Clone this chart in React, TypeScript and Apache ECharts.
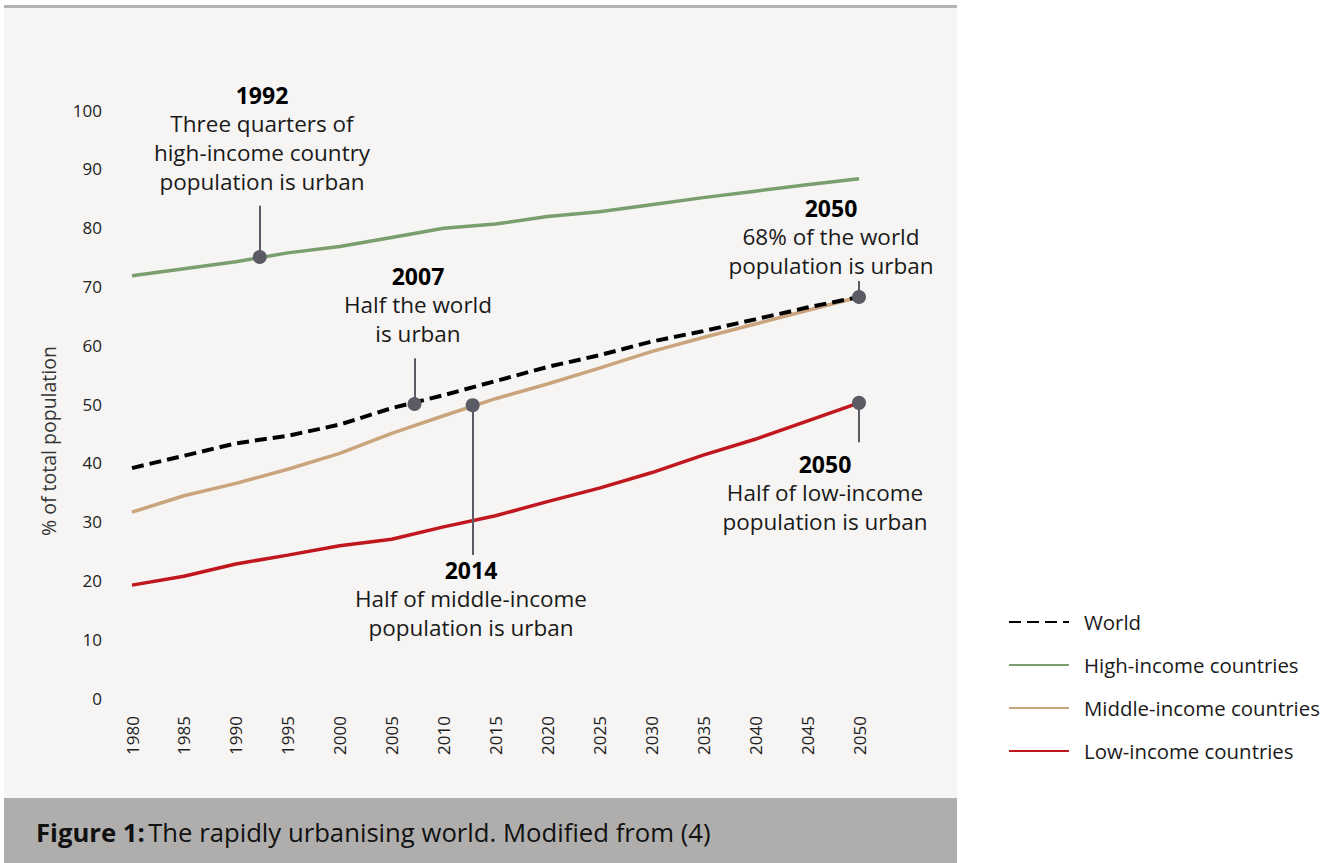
import React, { useEffect, useRef } from "react";
import * as echarts from "echarts";

const years = [1980, 1985, 1990, 1995, 2000, 2005, 2010, 2015, 2020, 2025, 2030, 2035, 2040, 2045, 2050];
const world = [39.1, 41.2, 43.3, 44.6, 46.5, 49.3, 51.5, 53.9, 56.3, 58.3, 60.6, 62.4, 64.4, 66.4, 68.2];
const high = [71.8, 73.0, 74.2, 75.7, 76.8, 78.3, 79.9, 80.6, 81.9, 82.7, 83.9, 85.1, 86.2, 87.3, 88.3];
const middle = [31.6, 34.4, 36.5, 38.9, 41.6, 45.0, 48.0, 50.9, 53.4, 56.1, 58.9, 61.3, 63.6, 65.9, 68.2];
const low = [19.2, 20.7, 22.8, 24.3, 25.9, 27.0, 29.1, 31.0, 33.4, 35.7, 38.3, 41.3, 44.0, 47.1, 50.2];

const seriesNames = ["World", "High-income countries", "Middle-income countries", "Low-income countries"];

// annotation dots: [year, value], leader line end value
const dotPoints = [
  [1992.3, 75.0],
  [2007.2, 50.0],
  [2012.8, 49.8],
  [2050, 68.2],
  [2050, 50.2],
];
const leaderEnds = [83.7, 57.8, 24.3, 70.9, 43.5];

const annotations = [
  { year: "1992", lines: ["Three quarters of", "high-income country", "population is urban"], x: 262, y: 80 },
  { year: "2007", lines: ["Half the world", "is urban"], x: 418, y: 261 },
  { year: "2014", lines: ["Half of middle-income", "population is urban"], x: 471, y: 555 },
  { year: "2050", lines: ["68% of the world", "population is urban"], x: 831, y: 193 },
  { year: "2050", lines: ["Half of low-income", "population is urban"], x: 825, y: 449 },
];

const FONT = "Open Sans";

export default function App() {
  const ref = useRef<HTMLDivElement>(null);
  useEffect(() => {
    if (!ref.current) return;
    const chart = echarts.init(ref.current, undefined, { renderer: "svg" });
    const mk = (arr: number[]) => years.map((y, i) => [y, arr[i]]);
    const graphics: any[] = [
      { type: "rect", z: -10, shape: { x: 4, y: 5, width: 953, height: 793 }, style: { fill: "#f6f5f3" } },
      { type: "rect", z: -9, shape: { x: 4, y: 5, width: 953, height: 3 }, style: { fill: "#b3b3b1" } },
      { type: "rect", z: -9, shape: { x: 4, y: 798, width: 953, height: 65 }, style: { fill: "#afaeac" } },
      {
        type: "text",
        x: 36,
        y: 832,
        style: {
          text: "{b|Figure 1:} {n|The rapidly urbanising world. Modified from (4)}",
          verticalAlign: "middle",
          rich: {
            b: { fontFamily: FONT, fontSize: 25.7, fontWeight: "bold", fill: "#111" },
            n: { fontFamily: FONT, fontSize: 25.7, fill: "#111" },
          },
        },
      },
      {
        type: "text",
        x: 48,
        y: 441,
        rotation: Math.PI / 2,
        style: {
          text: "% of total population",
          align: "center",
          verticalAlign: "middle",
          fontFamily: FONT,
          fontSize: 19.5,
          fill: "#333",
        },
      },
    ];
    annotations.forEach((a) => {
      graphics.push({
        type: "text",
        x: a.x,
        y: a.y,
        style: {
          text: ["{y|" + a.year + "}", ...a.lines.map((l) => "{t|" + l + "}")].join("\n"),
          align: "center",
          verticalAlign: "top",
          rich: {
            y: { fontFamily: FONT, fontSize: 23, fontWeight: "bold", fill: "#000", lineHeight: 29, align: "center" },
            t: { fontFamily: FONT, fontSize: 22.5, fill: "#1a1a1a", lineHeight: 29, align: "center" },
          },
        },
      });
    });

    chart.setOption({
      animation: false,
      backgroundColor: "#ffffff",
      graphic: graphics,
      grid: { left: 132, right: 479, top: 110, bottom: 165 },
      legend: {
        orient: "vertical",
        left: 1008,
        top: 612,
        padding: 0,
        itemWidth: 60,
        itemHeight: 4,
        itemGap: 23,
        data: seriesNames,
        itemStyle: { opacity: 0 },
        textStyle: { fontFamily: FONT, fontSize: 20.4, color: "#1a1a1a", padding: [0, 0, 0, 10] },
      },
      xAxis: {
        type: "value",
        min: 1980,
        max: 2050,
        interval: 5,
        axisLine: { show: false },
        axisTick: { show: false },
        splitLine: { show: false },
        axisLabel: { rotate: 90, margin: 18, fontFamily: FONT, fontSize: 17, color: "#222", formatter: (v: number) => String(v) },
      },
      yAxis: {
        type: "value",
        min: 0,
        max: 100,
        interval: 10,
        axisLine: { show: false },
        axisTick: { show: false },
        splitLine: { show: false },
        axisLabel: { margin: 30, fontFamily: FONT, fontSize: 17, color: "#222" },
      },
      series: [
        {
          name: "World",
          type: "line",
          data: mk(world),
          symbol: "none",
          z: 4,
          lineStyle: { color: "#000", width: 4, type: [12, 6] },
          itemStyle: { color: "#000" },
        },
        {
          name: "High-income countries",
          type: "line",
          data: mk(high),
          symbol: "none",
          lineStyle: { color: "#7a9e6e", width: 3.5 },
          itemStyle: { color: "#7a9e6e" },
        },
        {
          name: "Middle-income countries",
          type: "line",
          data: mk(middle),
          symbol: "none",
          z: 3,
          lineStyle: { color: "#c9a47c", width: 3.5 },
          itemStyle: { color: "#c9a47c" },
        },
        {
          name: "Low-income countries",
          type: "line",
          data: mk(low),
          symbol: "none",
          lineStyle: { color: "#c0161d", width: 3.5 },
          itemStyle: { color: "#c0161d" },
        },
        {
          name: "markers",
          type: "scatter",
          data: dotPoints,
          symbolSize: 14,
          z: 10,
          itemStyle: { color: "#5a5b65", opacity: 1 },
          markLine: {
            silent: true,
            symbol: "none",
            label: { show: false },
            lineStyle: { color: "#5a5b65", width: 2, type: "solid" },
            data: dotPoints.map((p, i) => [
              { coord: [p[0], p[1]] },
              { coord: [p[0], leaderEnds[i]] },
            ]),
          },
        },
      ],
    });
    return () => chart.dispose();
  }, []);
  return <div ref={ref} style={{ position: "absolute", left: 0, top: 0, width: 1338, height: 863 }} />;
}
